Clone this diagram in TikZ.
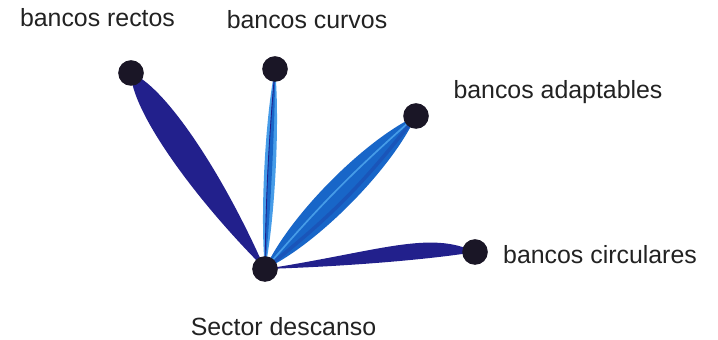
\documentclass[tikz,border=0pt]{standalone}
\usepackage{fontspec}
\setmainfont{Liberation Sans}
\usetikzlibrary{positioning,backgrounds,calc}
\definecolor{dotblack}{RGB}{26,22,38}
\definecolor{navyblue}{RGB}{34,32,140}
\definecolor{midblue}{RGB}{24,102,200}
\definecolor{lightblue}{RGB}{70,156,232}
\definecolor{textgray}{RGB}{34,34,34}

\begin{document}
\begin{tikzpicture}[
  x=0.025cm, y=-0.025cm,
  dot/.style={circle, fill=dotblack, minimum size=0.64cm, inner sep=0pt},
  lbl/.style={anchor=base, inner sep=0pt, text=textgray, font=\fontsize{17.7}{21}\selectfont},
  lens/.style n args={3}{to path={
    .. controls ($(\tikztostart)!#1!(\tikztotarget)!#3!90:(\tikztotarget)$)
    and ($(\tikztostart)!#2!(\tikztotarget)!#3!90:(\tikztotarget)$) .. (\tikztotarget)
    .. controls ($(\tikztostart)!#2!(\tikztotarget)!#3!-90:(\tikztotarget)$)
    and ($(\tikztostart)!#1!(\tikztotarget)!#3!-90:(\tikztotarget)$) .. (\tikztostart)}},
  streak/.style={line cap=round, line width=#1},
  streak/.default=0.6pt
]
\useasboundingbox (0,0) rectangle (718,340);

\node[dot] (sector) at (265,269) {};
\node[dot] (rectos) at (131,73) {};
\node[dot] (curvos) at (275,69) {};
\node[dot] (adapt) at (416,116) {};
\node[dot] (circ) at (475,252) {};

\node[lbl] (lrectos) at (97.5,27) {bancos rectos};
\node[lbl] (lcurvos) at (307,29) {bancos curvos};
\node[lbl] (ladapt) at (558,99) {bancos adaptables};
\node[lbl] (lcirc) at (600,264) {bancos circulares};
\node[lbl] (lsector) at (283.5,336) {Sector descanso};

\begin{scope}[on background layer]
\fill[navyblue] (sector.center) to[lens={0.45}{0.88}{0.5cm}] (rectos.center);

\fill[lightblue] (sector.center) to[lens={0.25}{0.75}{0.19cm}] (curvos.center);
\fill[midblue] (sector.center) to[lens={0.25}{0.75}{0.07cm}] (curvos.center);
\draw[navyblue, streak] (sector.center) to[bend left=2] (curvos.center);

\fill[midblue] (sector.center) to[lens={0.25}{0.75}{0.5cm}] (adapt.center);
\draw[lightblue, streak=1.2pt] (sector.center) to[bend left=4] (adapt.center);
\draw[navyblue!60!midblue, streak=2.5pt, opacity=0.4] (sector.center) to[bend right=7] (adapt.center);

\fill[navyblue] (sector.center) .. controls (380,251) and (430,230) .. (circ.center)
  .. controls (440,258) and (360,266) .. (sector.center);
\end{scope}

\end{tikzpicture}
\end{document}
